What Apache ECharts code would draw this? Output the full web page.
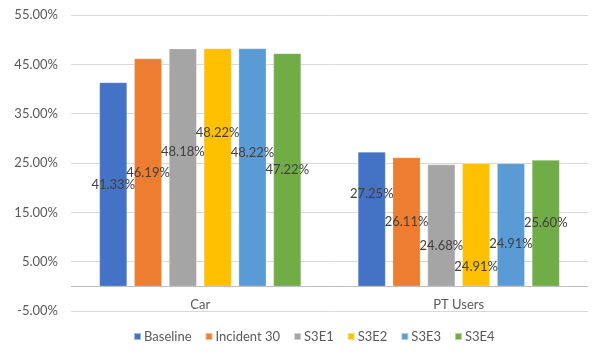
<!DOCTYPE html>
<html>
<head>
<meta charset="utf-8">
<script src="https://cdn.jsdelivr.net/npm/echarts@6/dist/echarts.min.js"></script>
<style>
  html, body { margin: 0; padding: 0; background: #fff; }
  #chart { width: 600px; height: 352px; }
</style>
</head>
<body>
<div id="chart"></div>
<script>
// Mode share by scenario (percent)
const categories = ['Car', 'PT Users'];
const seriesNames = ['Baseline', 'Incident 30', 'S3E1', 'S3E2', 'S3E3', 'S3E4'];
const baseline   = [41.33, 27.25];
const incident30 = [46.19, 26.11];
const s3e1       = [48.18, 24.68];
const s3e2       = [48.22, 24.91];
const s3e3       = [48.22, 24.91];
const s3e4       = [47.22, 25.60];
const yTicks = { min: -5, max: 55, interval: 10 };

const seriesValues = [baseline, incident30, s3e1, s3e2, s3e3, s3e4];
const colors = ['#4472C4', '#ED7D31', '#A5A5A5', '#FFC000', '#5B9BD5', '#70AD47'];
// vertical nudge of each value label from the bar centre, per series then category
const labelNudge = [[0, -25], [0, 0], [-16, 20], [-35, 42], [-15, 19], [0, 0]];

const font = 'Lato, "Open Sans", sans-serif';
const textColor = '#595959';

const chart = echarts.init(document.getElementById('chart'), null, { renderer: 'canvas' });

chart.setOption({
  animation: false,
  textStyle: { fontFamily: font },
  grid: { left: 71, right: 12, top: 15, bottom: 41 },
  legend: {
    bottom: 4,
    left: 128,
    itemWidth: 7,
    itemHeight: 7,
    itemGap: 13,
    icon: 'rect',
    textStyle: { color: textColor, fontSize: 13, fontFamily: font, padding: [0, 0, 0, -2] },
    data: seriesNames
  },
  xAxis: {
    type: 'category',
    data: categories,
    axisLine: { show: false },
    axisTick: { show: false },
    // category names sit just under the zero line
    axisLabel: { color: textColor, fontSize: 13, margin: -13, fontFamily: font }
  },
  yAxis: {
    type: 'value',
    min: yTicks.min,
    max: yTicks.max,
    interval: yTicks.interval,
    axisLine: { show: false },
    axisTick: { show: false },
    splitLine: { lineStyle: { color: '#D9D9D9', width: 1 } },
    axisLabel: {
      color: textColor, fontSize: 13, margin: 13, fontFamily: font,
      formatter: v => v.toFixed(2) + '%'
    }
  },
  series: seriesNames.map((name, i) => ({
    name: name,
    type: 'bar',
    barGap: '26%',
    barCategoryGap: '22%',
    itemStyle: { color: colors[i], borderColor: 'rgba(255,255,255,0.5)', borderWidth: 0.5 },
    data: seriesValues[i].map((v, j) => ({
      value: v,
      label: { offset: [0, labelNudge[i][j]] }
    })),
    label: {
      show: true,
      position: 'inside',
      color: '#404040',
      fontSize: 13,
      fontFamily: font,
      formatter: p => p.value.toFixed(2) + '%'
    },
    // category axis line drawn at zero
    markLine: i === 0 ? {
      silent: true,
      symbol: 'none',
      label: { show: false },
      lineStyle: { color: '#BFBFBF', width: 1, type: 'solid' },
      data: [{ yAxis: 0 }]
    } : undefined
  }))
});
</script>
</body>
</html>
